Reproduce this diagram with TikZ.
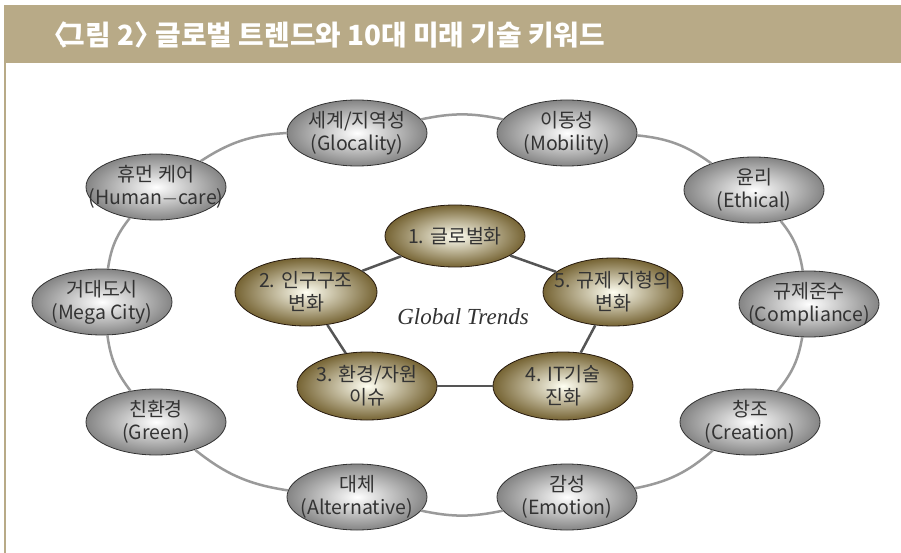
\documentclass[tikz,border=0pt]{standalone}
\usepackage{fontspec}
\newfontfamily\kr{Noto Sans CJK KR}
\setmainfont{Liberation Serif}
\usetikzlibrary{shapes.geometric}
\definecolor{band}{HTML}{B8AA87}
\definecolor{txt}{HTML}{333333}
\definecolor{ring}{HTML}{9A9A9A}
\definecolor{pent}{HTML}{555555}
\newcommand\zl[1]{\makebox[0pt]{#1}}
\tikzset{
  outer/.style={ellipse, draw=black!80, line width=0.8pt, inner sep=0pt,
    minimum width=140pt, minimum height=66pt, inner color=white, outer color=black!48,
    align=center, text=txt, font=\kr\fontsize{19.5}{23}\selectfont},
  gold/.style={ellipse, draw=black!80!brown, line width=0.8pt, inner sep=0pt,
    minimum width=140pt, minimum height=68pt, inner color=white!95!yellow, outer color={rgb,255:red,118;green,100;blue,52},
    align=center, text=txt, font=\kr\fontsize{19.5}{23}\selectfont},
  ringline/.style={draw=ring, line width=2.5pt},
  pentline/.style={draw=pent, line width=2.5pt},
}
\begin{document}
\begin{tikzpicture}[x=1pt,y=-1pt]
\useasboundingbox (0,0) rectangle (901,553);
\fill[white] (0,0) rectangle (901,553);
% header band
\fill[band] (4,5) rectangle (901,63);
\draw[band, line width=1.5pt] (5,63) -- (5,553);
\node[anchor=west, text=white, font=\kr\bfseries\fontsize{27.8}{30}\selectfont, inner sep=0pt] (title) at (40,35) {〈\hspace{-0.3em}그림 2〉\hspace{-0.45em} 글로벌 트렌드와 10대 미래 기술 키워드};
% outer nodes
\node[outer] (glo) at (357,133) {\zl{세계/지역성}\\\zl{(Glocality)}};
\node[outer] (mob) at (567,133) {\zl{이동성}\\\zl{(Mobility)}};
\node[outer] (eth) at (754,190) {\zl{윤리}\\\zl{(Ethical)}};
\node[outer] (com) at (809,304) {\zl{규제준수}\\\zl{(Compliance)}};
\node[outer] (cre) at (750,422) {\zl{창조}\\\zl{(Creation)}};
\node[outer] (emo) at (567,497) {\zl{감성}\\\zl{(Emotion)}};
\node[outer] (alt) at (357,497) {\zl{대체}\\\zl{(Alternative)}};
\node[outer] (gre) at (156,422) {\zl{친환경}\\\zl{(Green)}};
\node[outer] (meg) at (102,302) {\zl{거대도시}\\\zl{(Mega City)}};
\node[outer] (hum) at (156,187) {\zl{휴먼 케어}\\\zl{(Human$-$care)}};
% ring
\draw[ringline] (glo) to[bend left=12] (mob);
\draw[ringline] (mob) to[bend left=15] (eth);
\draw[ringline] (eth) to[bend left=15] (com);
\draw[ringline] (com) to[bend left=15] (cre);
\draw[ringline] (cre) to[bend left=15] (emo);
\draw[ringline] (emo) to[bend left=12] (alt);
\draw[ringline] (alt) to[bend left=15] (gre);
\draw[ringline] (gre) to[bend left=15] (meg);
\draw[ringline] (meg) to[bend left=15] (hum);
\draw[ringline] (hum) to[bend left=15] (glo);
% inner nodes
\node[gold, minimum height=62pt] (g1) at (455,236) {\zl{1. 글로벌화}};
\node[gold, minimum width=142pt] (g2) at (306,292) {\zl{2. 인구구조}\\\zl{변화}};
\node[gold] (g3) at (367,386) {\zl{3. 환경/자원}\\\zl{이슈}};
\node[gold] (g4) at (563,386) {\zl{4. IT기술}\\\zl{진화}};
\node[gold] (g5) at (613,292) {\zl{5. 규제 지형의}\\\zl{변화}};
\draw[pentline] (g1) -- (g2);
\draw[pentline] (g2) -- (g3);
\draw[pentline] (g3) -- (g4);
\draw[pentline] (g4) -- (g5);
\draw[pentline] (g5) -- (g1);
\node[font=\itshape\fontsize{23}{26}\selectfont, text=txt] (gt) at (463,317) {Global Trends};
\end{tikzpicture}
\end{document}
